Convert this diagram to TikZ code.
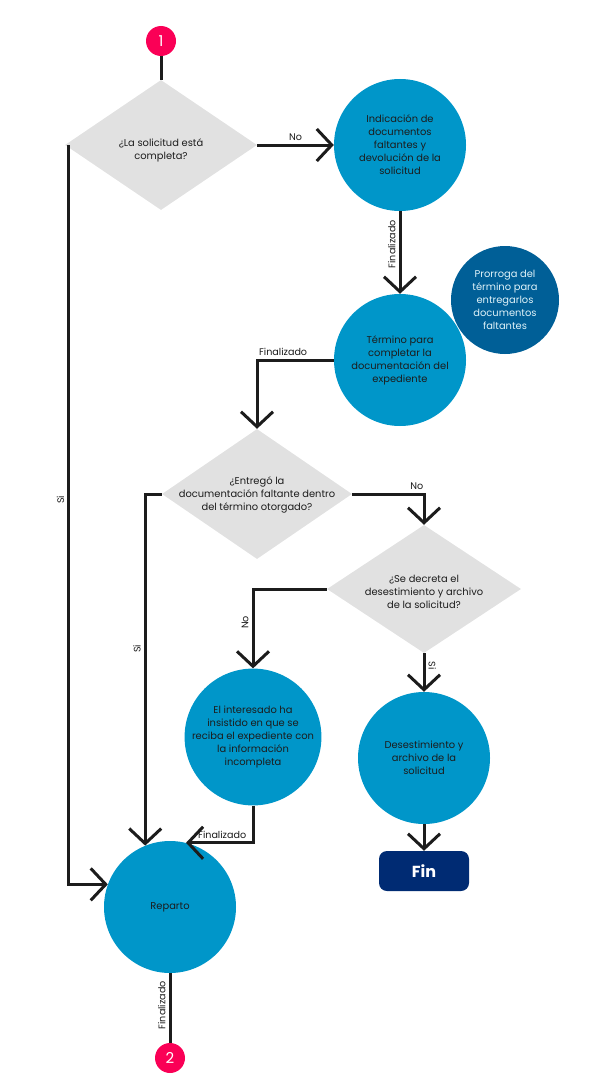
\documentclass[tikz,border=0pt]{standalone}
\usepackage{fontspec}
\setmainfont{Poppins}
\usetikzlibrary{arrows.meta,shapes.geometric}
\definecolor{ink}{HTML}{1C1C1C}
\definecolor{stepblue}{HTML}{0096C9}
\definecolor{darkblue}{HTML}{005F97}
\definecolor{navy}{HTML}{002B73}
\definecolor{askgray}{HTML}{E1E1E1}
\definecolor{connred}{HTML}{FA0056}
\begin{document}
\begin{tikzpicture}[x=1pt, y=-1pt,
    every node/.style={font=\fontsize{9.9}{13}\selectfont, text=ink},
    blob/.style={circle, fill=stepblue, minimum size=132pt, inner sep=0pt, align=center},
    ask/.style={diamond, fill=askgray, inner sep=0pt},
    asktext/.style={align=center, inner sep=0pt},
    conn/.style={circle, fill=connred, minimum size=30pt, inner sep=0pt, text=white, font=\fontsize{15}{15}\selectfont},
    flow/.style={draw=ink, line width=3pt, -{Straight Barb[length=15pt, width=32pt]}},
    plain/.style={draw=ink, line width=3pt},
    lbl/.style={font=\fontsize{9.6}{11}\selectfont, inner sep=3pt}]
\useasboundingbox (0,0) rectangle (600,1089);

\node[conn] (c1) at (161,41) {1};
\node[ask, minimum width=192pt, minimum height=130pt] (d1) at (161,145) {};
\node[asktext] (q1) at (161,150) {¿La solicitud está\\completa?};
\node[blob] (ca) at (400,145) {Indicación de\\documentos\\faltantes y\\devolución de la\\solicitud};
\node[blob] (cb) at (400,360) {Término para\\completar la\\documentación del\\expediente};
\node[circle, fill=darkblue, minimum size=108pt, inner sep=0pt, align=center, text=white!88!stepblue] (cp) at (505,300) {Prorroga del\\término para\\entregarlos\\documentos\\faltantes};
\node[ask, minimum width=190pt, minimum height=130pt] (d2) at (257,494) {};
\node[asktext] (q2) at (257,495) {¿Entregó la\\documentación faltante dentro\\del término otorgado?};
\node[ask, minimum width=194pt, minimum height=128pt] (d3) at (424,589) {};
\node[asktext] (q3) at (424,592) {¿Se decreta el\\desestimiento y archivo\\de la solicitud?};
\node[blob] (cc) at (253,737) {El interesado ha\\insistido en que se\\reciba el expediente con\\la información\\incompleta};
\node[blob] (cd) at (424,758) {Desestimiento y\\archivo de la\\solicitud};
\node[rounded corners=8pt, fill=navy, minimum width=90pt, minimum height=40pt, text=white, font=\fontsize{16}{16}\selectfont\bfseries] (fin) at (424,871) {Fin};
\node[blob] (rep) at (170,907) {Reparto};
\node[conn] (c2) at (170,1058) {2};

\draw[plain] (c1) -- (d1);
\draw[flow] (d1) -- node[lbl, above] (lno1) {No} (ca);
\draw[flow] (ca) -- node[lbl, pos=0.4, above, rotate=90] (lfin1) {Finalizado} (cb);
\draw[flow] (cb) -| node[lbl, pos=0.33, above] (lfin2) {Finalizado} (d2);
\draw[flow] (d2) -| node[lbl, pos=0.45, above] (lno2) {No} (d3);
\draw[flow] (d3) -| node[lbl, pos=0.71, above, rotate=90] (lno3) {No} (cc);
\draw[flow] (d3) -- node[lbl, pos=0.33, above, rotate=-90] (lsi3) {Si} (cd);
\draw[flow] (cd) -- (fin);
\draw[flow] (cc) |- node[lbl, pos=0.73, above] (lfin3) {Finalizado} (rep.76);
\draw[flow] (d2) -| node[lbl, pos=0.72, above, rotate=90] (lsi2) {Si} (rep.112);
\draw[flow] ([xshift=4pt]d1.west) |- node[lbl, pos=0.24, above, rotate=90] (lsi1) {Si} (rep.160);
\draw[plain] (rep) -- node[lbl, pos=0.46, above, rotate=90] (lfin4) {Finalizado} (c2);
\end{tikzpicture}
\end{document}
